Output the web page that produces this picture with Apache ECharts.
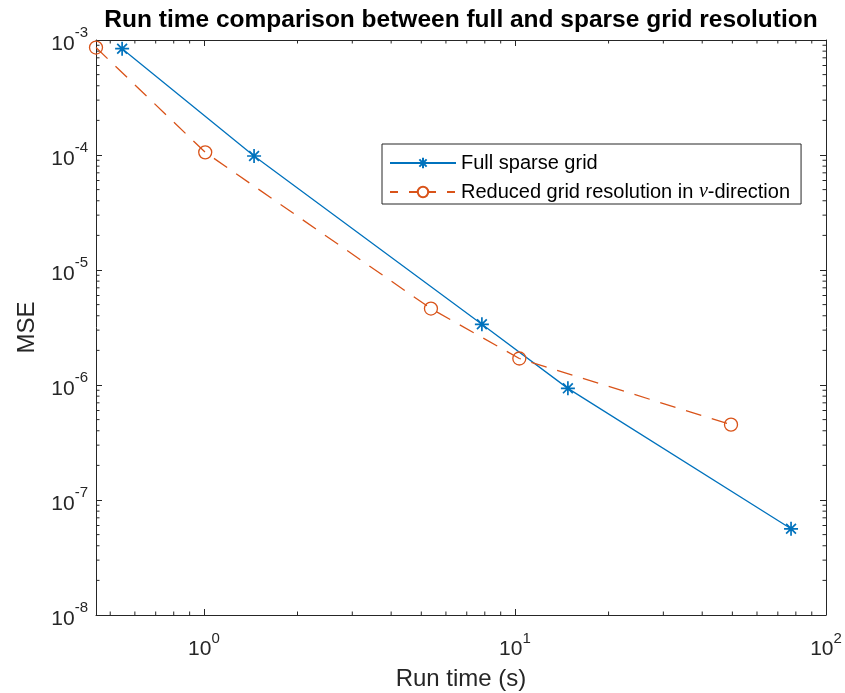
<!DOCTYPE html>
<html>
<head>
<meta charset="utf-8">
<script src="https://cdn.jsdelivr.net/npm/echarts@6/dist/echarts.min.js"></script>
<style>html,body{margin:0;padding:0;background:#fff;}#chart{width:845px;height:693px;}</style>
</head>
<body>
<div id="chart"></div>
<script>
// ---- data ----
const runTimeFull = [0.546, 1.45, 7.83, 14.8, 77.2];
const mseFull = [8.4e-4, 9.8e-5, 3.37e-6, 9.35e-7, 5.62e-8];
const runTimeReduced = [0.45, 1.01, 5.37, 10.33, 49.5];
const mseReduced = [8.6e-4, 1.055e-4, 4.62e-6, 1.70e-6, 4.52e-7];
const seriesNames = ['Full sparse grid', 'Reduced grid resolution in ν-direction'];
const xRange = [0.45, 100];
const yRange = [1e-8, 1e-3];
const minorMantissas = [2, 3, 4, 5, 6, 7, 8, 9];
const xDecades = [0.1, 1, 10];
const yDecades = [1e-8, 1e-7, 1e-6, 1e-5, 1e-4];

const C_AX = '#262626';
const FONT = 'Liberation Sans, Arial, sans-serif';
const tickData = [];
xDecades.forEach(d => minorMantissas.forEach(m => {
  const v = +(m * d).toPrecision(6);
  if (v > xRange[0] && v < xRange[1]) tickData.push([v, yRange[0], 0]);
}));
yDecades.forEach(d => minorMantissas.forEach(m => {
  const v = +(m * d).toPrecision(6);
  if (v > yRange[0] && v < yRange[1]) tickData.push([xRange[0], v, 1]);
}));

function powLabel(value) {
  const l = Math.log10(value);
  const e = Math.round(l);
  if (Math.abs(l - e) > 1e-6) return '';
  return '{b|10}{s|' + (e < 0 ? '-' + (-e) : e) + '}';
}
const labelRich = {
  b: { fontSize: 21, color: C_AX, fontFamily: FONT, padding: [8, 0, 0, 0] },
  s: { fontSize: 15, color: C_AX, fontFamily: FONT, verticalAlign: 'top' }
};

const asterisk = 'path://M5,0L5,10M0,5L10,5M1.5,1.5L8.5,8.5M1.5,8.5L8.5,1.5';

function logAxis(range, pos, withLabels, name, nameGap) {
  return {
    type: 'log', logBase: 10, min: range[0], max: range[1], position: pos,
    axisLine: { show: true, onZero: false, lineStyle: { color: C_AX, width: 1 } },
    axisTick: { show: true, inside: true, length: 6, lineStyle: { color: C_AX, width: 1 } },
    splitLine: { show: false },
    minorTick: { show: false },
    axisLabel: withLabels ? {
      show: true, formatter: powLabel, rich: labelRich,
      margin: pos === 'bottom' ? 16 : 8, showMinLabel: true, showMaxLabel: true, hideOverlap: false
    } : { show: false },
    name: name || '', nameLocation: 'middle', nameGap: nameGap || 0,
    nameTextStyle: { fontSize: 24, color: C_AX, fontFamily: FONT }
  };
}

const chart = echarts.init(document.getElementById('chart'), null, { renderer: 'canvas' });
chart.setOption({
  animation: false,
  backgroundColor: '#fff',
  title: {
    text: 'Run time comparison between full and sparse grid resolution',
    left: 461, textAlign: 'center', top: 8, padding: 0,
    textStyle: { fontSize: 24.5, fontWeight: 'bold', color: '#000', fontFamily: FONT }
  },
  grid: { left: 96, right: 19, top: 40, bottom: 78, containLabel: false, outerBoundsMode: 'none' },
  xAxis: [
    logAxis(xRange, 'bottom', true, 'Run time (s)', 52),
    logAxis(xRange, 'top', false)
  ],
  yAxis: [
    logAxis(yRange, 'left', true, 'MSE', 57),
    logAxis(yRange, 'right', false)
  ],
  legend: {
    orient: 'vertical', left: 382, top: 144,
    itemWidth: 66, itemHeight: 13, itemGap: 7,
    padding: [8, 11, 1, 7],
    borderColor: C_AX, borderWidth: 1, backgroundColor: '#fff',
    selectedMode: false,
    data: [
      { name: seriesNames[0] },
      { name: seriesNames[1], lineStyle: { type: [8, 11] } }
    ],
    formatter: function (n) {
      if (n === seriesNames[1]) return '{t|Reduced grid resolution in }{i|ν}{t|-direction}';
      return '{t|' + n + '}';
    },
    textStyle: {
      color: '#000', fontSize: 20, lineHeight: 22,
      rich: {
        t: { fontSize: 20, color: '#000', fontFamily: FONT },
        i: { fontSize: 20, color: '#000', fontStyle: 'italic', fontFamily: 'Liberation Serif, serif' }
      }
    }
  },
  series: [
    {
      name: seriesNames[0], type: 'line',
      data: runTimeFull.map((x, i) => [x, mseFull[i]]),
      symbol: asterisk, symbolSize: 14, showSymbol: true,
      lineStyle: { color: '#0072BD', width: 1.3, type: 'solid' },
      itemStyle: { color: 'rgba(0,0,0,0)', borderColor: '#0072BD', borderWidth: 1.7 },
      emphasis: { disabled: true }, z: 3
    },
    {
      name: seriesNames[1], type: 'line',
      data: runTimeReduced.map((x, i) => [x, mseReduced[i]]),
      symbol: 'circle', symbolSize: 13, showSymbol: true,
      lineStyle: { color: '#D95319', width: 1.3, type: [16, 11] },
      itemStyle: { color: 'rgba(0,0,0,0)', borderColor: '#D95319', borderWidth: 1.3 },
      emphasis: { disabled: true }, z: 3
    },
    {
      type: 'custom', name: 'minorTicks', silent: true, clip: false,
      xAxisIndex: 0, yAxisIndex: 0,
      data: tickData,
      encode: { x: 0, y: 1 },
      renderItem: function (params, api) {
        const kind = api.value(2);
        const L = 3.5;
        const st = { stroke: C_AX, lineWidth: 1 };
        if (kind === 0) {
          const v = api.value(0);
          const pb = api.coord([v, yRange[0]]);
          const pt = api.coord([v, yRange[1]]);
          return { type: 'group', children: [
            { type: 'line', shape: { x1: pb[0], y1: pb[1], x2: pb[0], y2: pb[1] - L }, style: st },
            { type: 'line', shape: { x1: pt[0], y1: pt[1], x2: pt[0], y2: pt[1] + L }, style: st }
          ] };
        } else {
          const v = api.value(1);
          const pl = api.coord([xRange[0], v]);
          const pr = api.coord([xRange[1], v]);
          return { type: 'group', children: [
            { type: 'line', shape: { x1: pl[0], y1: pl[1], x2: pl[0] + L, y2: pl[1] }, style: st },
            { type: 'line', shape: { x1: pr[0], y1: pr[1], x2: pr[0] - L, y2: pr[1] }, style: st }
          ] };
        }
      },
      z: 1
    }
  ]
});
</script>
</body>
</html>
